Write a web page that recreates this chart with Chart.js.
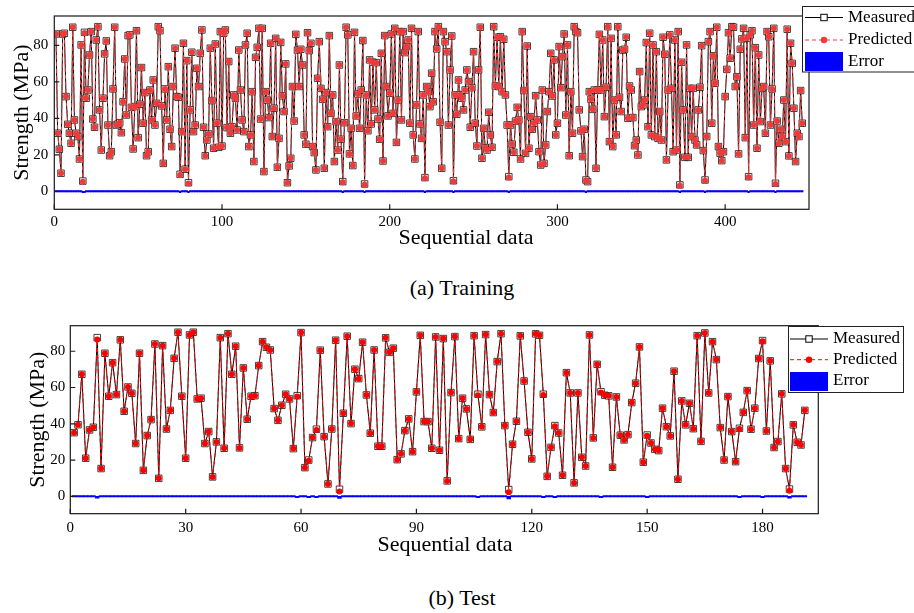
<!DOCTYPE html>
<html><head><meta charset="utf-8">
<script src="https://cdn.jsdelivr.net/npm/chart.js@4/dist/chart.umd.min.js"></script>
<style>
html,body{margin:0;padding:0;background:#fff;width:914px;height:613px;overflow:hidden;}
#wrap{position:relative;width:914px;height:613px;}
#c1{position:absolute;left:0;top:0;}
#c2{position:absolute;left:0;top:300px;}
.cap{position:absolute;width:914px;text-align:center;font-family:"Liberation Serif","Times New Roman",serif;font-size:22px;line-height:25px;color:#000;}
</style></head><body>
<div id="wrap">
<canvas id="c1" width="914" height="260"></canvas>
<canvas id="c2" width="914" height="265"></canvas>
<div class="cap" style="top:275px;left:5px">(a) Training</div>
<div class="cap" style="top:585px;left:5px">(b) Test</div>
</div>
<script>
const trainXTicks = [0, 100, 200, 300, 400];
const testXTicks = [0, 30, 60, 90, 120, 150, 180];
const strengthTicks = [0, 20, 40, 60, 80];
const seriesNames = ['Measured', 'Predicted', 'Error'];

const trainMeasured = [
86.2, 31.8, 23.0, 9.9, 86.2, 86.6, 51.9, 36.7, 31.8, 26.3,
89.9, 39.1, 31.8, 30.0, 17.7, 80.2, 5.6, 87.1, 51.0, 55.5,
74.7, 87.5, 39.6, 35.1, 82.9, 90.2, 44.6, 22.6, 51.0, 75.3,
82.4, 36.3, 19.5, 21.7, 56.1, 89.9, 36.3, 36.9, 37.6, 32.1,
49.1, 72.5, 41.8, 85.3, 85.7, 46.0, 23.2, 46.4, 88.0, 29.4,
47.7, 67.8, 37.3, 54.1, 19.5, 21.7, 55.5, 39.1, 61.0, 36.3,
48.2, 90.2,
88.0, 46.8, 15.3, 56.1, 39.1, 68.3, 34.0, 24.5, 57.4, 78.4,
51.9, 51.5, 9.3, 32.7, 81.1, 12.1, 71.6, 4.7, 44.6, 76.2,
32.7, 36.3, 67.4, 57.4, 75.6, 88.4, 35.1, 19.5, 28.1, 31.4,
78.4, 49.7, 23.6, 80.7, 37.3, 24.1, 87.5, 24.8, 86.6, 88.4,
34.9, 71.1, 31.8, 35.4, 52.8, 51.0, 33.6, 77.4, 55.5, 39.1,
32.7, 80.2, 86.6, 24.5, 30.9, 54.6, 16.3, 73.4, 78.9, 89.3,
39.6, 89.3, 10.8, 54.6,
50.0, 40.4, 81.1, 30.0, 45.5, 83.8, 13.2, 29.0, 81.6, 52.3,
43.7, 69.8, 4.7, 13.9, 18.1, 57.4, 38.5, 86.0, 77.4, 57.4,
77.8, 69.2, 30.9, 25.8, 86.9, 77.1, 81.1, 24.5, 21.2, 11.7,
61.9, 82.0, 56.4, 50.4, 12.6, 54.1, 35.4, 85.3, 42.7, 52.8,
16.3, 38.2, 22.6, 69.2, 28.5, 5.3, 37.6, 89.9, 85.7, 20.5,
34.5, 14.1, 87.1, 41.3, 53.3, 34.5, 55.5, 82.6, 4.0, 52.8,
33.2, 72.0, 36.9, 70.7,
44.6, 70.5, 39.6, 28.5, 75.6, 16.6, 85.3, 57.4, 41.3, 53.7,
86.2, 42.7, 89.3, 26.8, 50.0, 87.5, 39.1, 87.5, 76.0, 79.3,
82.9, 37.3, 89.3, 30.9, 17.7, 47.3, 87.5, 36.9, 29.0, 52.8,
7.5, 57.4, 54.6, 46.4, 64.7, 49.1, 87.5, 78.0, 90.2, 37.8,
12.6, 87.5, 82.0, 76.5, 36.3, 66.5, 85.1, 5.8, 52.8, 42.2,
61.0, 52.8, 51.0, 44.6, 55.5, 66.5, 60.1, 35.1, 56.8, 76.5,
37.3, 24.8, 66.5, 89.9, 18.1, 34.5,
23.9, 22.6, 43.3, 30.9, 24.1, 90.2, 57.7, 84.4, 57.4, 84.7,
54.6, 83.3, 52.8, 36.3, 8.0, 36.3, 25.9, 21.4, 38.5, 46.0,
39.1, 17.7, 87.5, 55.2, 20.8, 79.6, 23.6, 40.9, 34.0, 37.3,
52.4, 39.1, 21.7, 14.4, 55.5, 15.3, 25.4, 43.7, 54.6, 75.6,
52.2, 72.0, 30.9, 37.3, 79.3, 56.8, 73.8, 86.2, 41.8, 80.2,
19.5, 54.6, 31.8, 90.2, 87.5, 86.9, 44.6, 33.1, 19.0, 34.0,
6.2, 5.3, 54.6, 50.4, 44.9, 55.5,
12.6, 55.5, 86.0, 55.5, 82.9, 40.9, 57.0, 90.2, 27.2, 83.8,
24.5, 50.0, 30.9, 90.2, 51.5, 43.7, 77.4, 77.8, 84.4, 40.0,
57.7, 55.5, 40.4, 25.0, 28.1, 19.9, 65.6, 46.4, 47.3, 50.0,
81.5, 35.4, 86.6, 30.9, 80.2, 30.0, 76.5, 29.0, 43.7, 28.1,
84.4, 75.1, 17.2, 55.5, 85.7, 56.4, 21.7, 82.9, 22.6, 87.5,
3.5, 70.7, 44.6, 18.6, 80.2, 18.6, 56.4, 30.0, 56.4, 28.1,
25.4, 44.6, 57.0, 79.8, 22.3, 6.2, 30.0, 82.0,
87.5, 37.3, 74.3, 59.2, 89.9, 24.5, 20.8, 16.8, 21.7, 51.9,
66.8, 86.9, 72.9, 90.2, 89.9, 57.4, 62.8, 20.5, 77.8, 83.5,
89.3, 29.4, 83.8, 8.0, 85.7, 88.0, 36.3, 78.7, 23.6, 74.7,
38.2, 56.4, 57.4, 31.8, 87.5, 84.7, 36.3, 56.1, 89.3, 4.4,
38.5, 26.3, 34.0, 30.0, 50.0, 27.2, 88.8, 19.4, 81.1, 70.1,
45.5, 16.3, 31.8, 30.0, 55.2, 37.3
];

const trainPredicted = [
86.2, 31.8, 23.0, 9.9, 86.2, 86.6, 51.9, 36.7, 31.8, 26.3,
89.9, 39.1, 31.8, 30.0, 17.7, 80.2, 5.2, 86.7, 51.0, 55.5,
74.7, 87.5, 39.6, 35.1, 82.9, 90.2, 44.6, 22.6, 51.0, 75.3,
82.4, 36.3, 19.5, 21.7, 56.1, 89.9, 36.3, 36.9, 37.6, 32.1,
49.1, 72.5, 41.8, 85.3, 85.7, 46.0, 23.2, 46.4, 88.0, 29.4,
47.7, 67.8, 37.3, 54.1, 19.5, 21.7, 55.5, 39.1, 61.0, 36.3,
48.2, 90.2,
88.0, 46.8, 15.3, 56.1, 39.1, 68.3, 34.0, 24.5, 57.4, 78.4,
51.9, 51.5, 9.0, 32.7, 81.1, 12.1, 71.6, 4.3, 44.6, 76.2,
32.7, 36.3, 67.4, 57.4, 75.6, 88.4, 35.1, 19.5, 28.1, 31.4,
78.4, 49.7, 23.6, 80.7, 37.3, 24.1, 87.5, 24.8, 86.6, 88.4,
34.9, 71.1, 31.8, 35.4, 52.8, 51.0, 33.6, 77.4, 55.5, 39.1,
32.7, 80.2, 86.6, 24.5, 30.9, 54.6, 16.3, 73.4, 78.9, 89.3,
39.6, 89.3, 10.8, 54.6,
50.0, 40.4, 81.1, 30.0, 45.5, 83.8, 13.2, 29.0, 81.6, 52.3,
43.7, 69.8, 4.7, 13.9, 18.1, 57.4, 38.5, 86.0, 77.4, 57.4,
77.8, 69.2, 30.9, 25.8, 86.9, 77.1, 81.1, 24.5, 21.2, 11.7,
61.9, 82.0, 56.4, 50.4, 12.6, 54.1, 35.4, 85.3, 42.7, 52.8,
16.3, 38.2, 22.6, 69.2, 28.5, 5.0, 37.6, 89.9, 85.7, 20.5,
34.5, 14.1, 87.1, 41.3, 53.3, 34.5, 55.5, 82.6, 3.6, 52.8,
33.2, 72.0, 36.9, 70.7,
44.6, 70.5, 39.6, 28.5, 75.6, 16.6, 85.3, 57.4, 41.3, 53.7,
86.2, 42.7, 89.3, 26.8, 50.0, 87.5, 39.1, 87.5, 76.0, 79.3,
82.9, 37.3, 89.3, 30.9, 17.7, 47.3, 87.5, 36.9, 29.0, 52.8,
7.2, 57.4, 54.6, 46.4, 64.7, 49.1, 87.5, 78.0, 90.2, 37.8,
12.6, 87.5, 82.0, 76.5, 36.3, 66.5, 85.1, 5.4, 52.8, 42.2,
61.0, 52.8, 51.0, 44.6, 55.5, 66.5, 60.1, 35.1, 56.8, 76.5,
37.3, 24.8, 66.5, 89.9, 18.1, 34.5,
23.9, 22.6, 43.3, 30.9, 24.1, 90.2, 57.7, 84.4, 57.4, 84.7,
54.6, 83.3, 52.8, 36.3, 7.6, 36.3, 25.9, 21.4, 38.5, 46.0,
39.1, 17.7, 87.5, 55.2, 20.8, 79.6, 23.6, 40.9, 34.0, 37.3,
52.4, 39.1, 21.7, 14.4, 55.5, 15.3, 25.4, 43.7, 54.6, 75.6,
52.2, 72.0, 30.9, 37.3, 79.3, 56.8, 73.8, 86.2, 41.8, 80.2,
19.5, 54.6, 31.8, 90.2, 87.5, 86.9, 44.6, 33.1, 19.0, 34.0,
5.9, 5.3, 54.6, 50.4, 44.9, 55.5,
12.6, 55.5, 86.0, 55.5, 82.9, 40.9, 57.0, 90.2, 27.2, 83.8,
24.5, 50.0, 30.9, 90.2, 51.5, 43.7, 77.4, 77.8, 84.4, 40.0,
57.7, 55.5, 40.4, 25.0, 28.1, 19.9, 65.6, 46.4, 47.3, 50.0,
81.5, 35.4, 86.6, 30.9, 80.2, 30.0, 76.5, 29.0, 43.7, 28.1,
84.4, 75.1, 17.2, 55.5, 85.7, 56.4, 21.7, 82.9, 22.6, 87.5,
3.0, 70.7, 44.6, 18.6, 80.2, 18.6, 56.4, 30.0, 56.4, 28.1,
25.4, 44.6, 57.0, 79.8, 22.3, 5.8, 30.0, 82.0,
87.5, 37.3, 74.3, 59.2, 89.9, 24.5, 20.8, 16.8, 21.7, 51.9,
66.8, 86.9, 72.9, 90.2, 89.9, 57.4, 62.8, 20.5, 77.8, 83.5,
89.3, 29.4, 83.8, 7.7, 85.7, 88.0, 36.3, 78.7, 23.6, 74.7,
38.2, 56.4, 57.4, 31.8, 87.5, 84.7, 36.3, 56.1, 89.3, 4.0,
38.5, 26.3, 34.0, 30.0, 50.0, 27.2, 88.8, 19.4, 81.1, 70.1,
45.5, 16.3, 31.8, 30.0, 55.2, 37.3
];

const testMeasured = [
35.1, 39.5, 67.3, 21.0, 36.6, 38.1, 87.5, 15.3, 78.9, 55.2,
73.7, 56.1, 86.3, 46.9, 60.3, 56.8, 29.1, 78.9, 14.3, 33.5,
42.3, 84.0, 9.9, 83.1, 37.1, 47.4, 76.1, 90.5, 55.2, 21.0,
89.0, 90.5, 53.7, 54.1, 29.1, 35.7, 10.7, 30.0, 87.5, 26.5,
89.7, 67.3, 82.8, 26.7, 70.8, 42.5, 55.2, 55.5, 72.1, 85.3,
82.2, 80.7, 48.4, 41.9, 50.2, 56.3, 53.7, 26.3, 55.5, 90.3,
15.8, 20.0, 32.4, 37.0, 80.6, 32.9, 6.8, 37.1, 86.1, 3.9,
45.8, 88.3, 40.1, 70.1, 64.9, 85.0, 55.9, 34.8, 80.7, 27.6,
27.6, 87.4, 79.4, 81.7, 20.2, 23.4, 36.2, 42.7, 24.6, 57.6,
88.8, 41.2, 41.2, 26.5, 87.9, 25.4, 87.0, 8.5, 57.2, 88.1,
31.8, 54.1, 48.2, 31.4, 88.6, 56.3, 38.3, 89.2, 56.1, 46.2,
74.3, 89.7, 39.0, 3.7, 28.7, 41.4, 88.5, 63.6, 35.3, 20.6,
89.6, 88.8, 56.3, 11.0, 27.0, 39.0, 34.9, 11.6, 68.2, 57.0,
7.4, 57.0, 21.5, 16.7, 89.0, 32.2, 72.8, 57.7, 55.7, 55.4,
16.0, 54.8, 33.7, 31.1, 34.0, 51.7, 62.4, 82.4, 18.8, 33.8,
29.4, 25.9, 25.2, 48.6, 38.4, 33.3, 69.0, 9.4, 52.6, 39.4,
51.3, 37.3, 88.6, 30.3, 90.1, 57.0, 85.3, 75.4, 37.9, 20.0,
55.0, 35.7, 19.1, 37.5, 46.3, 58.3, 37.0, 48.6, 76.0, 85.9,
36.0, 74.7, 26.9, 30.2, 56.5, 15.3, 4.0, 39.4, 29.8, 28.3, 47.4
];

const testPredicted = [
35.1, 39.5, 67.3, 21.0, 36.6, 38.1, 86.5, 15.3, 78.9, 55.2,
73.7, 56.1, 86.3, 46.9, 60.3, 56.8, 29.1, 78.9, 14.3, 33.5,
42.3, 84.0, 9.9, 83.1, 37.1, 47.4, 76.1, 90.5, 55.2, 21.0,
89.0, 90.5, 53.7, 54.1, 29.1, 35.7, 10.7, 30.0, 87.5, 26.5,
89.7, 67.3, 82.8, 26.7, 70.8, 42.5, 55.2, 55.5, 72.1, 85.3,
82.2, 80.7, 48.4, 41.9, 50.2, 56.3, 53.7, 26.3, 55.0, 90.3,
15.8, 19.6, 32.4, 36.6, 80.6, 32.9, 6.8, 37.1, 86.1, 2.7,
45.8, 88.3, 40.1, 70.1, 64.9, 85.0, 55.9, 34.8, 80.7, 27.6,
27.6, 87.4, 79.4, 81.7, 20.2, 23.4, 36.2, 42.7, 24.6, 57.6,
88.8, 41.2, 41.2, 26.5, 87.9, 25.4, 87.0, 8.5, 57.2, 88.1,
31.8, 54.1, 48.2, 31.4, 88.6, 55.8, 38.3, 89.2, 56.1, 46.2,
74.3, 89.7, 39.0, 2.3, 28.7, 41.4, 88.5, 63.6, 35.3, 20.6,
89.6, 88.8, 55.9, 11.0, 27.0, 38.6, 34.9, 11.6, 68.2, 57.0,
7.4, 57.0, 21.5, 16.7, 89.0, 32.2, 72.8, 57.3, 55.7, 55.4,
16.0, 54.8, 33.7, 31.1, 34.0, 51.7, 62.4, 82.4, 18.8, 33.4,
29.4, 25.9, 25.2, 48.6, 38.4, 33.3, 69.0, 9.4, 52.6, 39.4,
51.3, 37.3, 88.6, 30.3, 90.1, 57.0, 85.3, 75.4, 37.9, 20.0,
55.0, 35.7, 19.1, 37.1, 46.3, 58.3, 37.0, 48.6, 76.0, 85.5,
36.0, 74.7, 26.9, 30.2, 56.5, 15.3, 3.0, 39.4, 29.8, 28.3, 47.4
];

const SERIF = '"Liberation Serif", "Times New Roman", serif';

function points(arr) { return arr.map((v, i) => ({ x: i + 1, y: v })); }
function diffs(pred, meas) { return pred.map((v, i) => ({ x: i + 1, y: Math.round((v - meas[i]) * 100) / 100 })); }

const frameTicks = {
  id: 'frameTicks',
  afterDraw(chart) {
    const { ctx, chartArea: a, scales } = chart;
    ctx.save();
    ctx.strokeStyle = '#1a1a1a';
    ctx.lineWidth = 1.2;
    ctx.strokeRect(a.left, a.top, a.right - a.left, a.bottom - a.top);
    ctx.beginPath();
    scales.x.ticks.forEach(t => { const p = scales.x.getPixelForValue(t.value); ctx.moveTo(p, a.bottom); ctx.lineTo(p, a.bottom - 5); });
    scales.y.ticks.forEach(t => { const p = scales.y.getPixelForValue(t.value); ctx.moveTo(a.left, p); ctx.lineTo(a.left + 5, p); });
    ctx.stroke();
    ctx.restore();
  }
};

const boxLegend = {
  id: 'boxLegend',
  afterDraw(chart, args, o) {
    const ctx = chart.ctx;
    const ds = chart.data.datasets;
    ctx.save();
    ctx.fillStyle = '#fff';
    ctx.fillRect(o.left, o.top, o.width, o.height);
    ctx.strokeStyle = '#222';
    ctx.lineWidth = 1;
    ctx.strokeRect(o.left, o.top, o.width, o.height);
    const x0 = o.x0, x1 = o.x1, xm = (x0 + x1) / 2;
    ctx.strokeStyle = '#000';
    ctx.beginPath(); ctx.moveTo(x0, o.rows[0]); ctx.lineTo(x1, o.rows[0]); ctx.stroke();
    ctx.fillStyle = '#fff';
    ctx.fillRect(xm - 3.2, o.rows[0] - 3.2, 6.4, 6.4);
    ctx.strokeRect(xm - 3.2, o.rows[0] - 3.2, 6.4, 6.4);
    ctx.strokeStyle = o.red;
    ctx.setLineDash([4, 3]);
    ctx.beginPath(); ctx.moveTo(x0, o.rows[1]); ctx.lineTo(x1, o.rows[1]); ctx.stroke();
    ctx.setLineDash([]);
    ctx.fillStyle = o.red;
    ctx.beginPath(); ctx.arc(xm, o.rows[1], 3.2, 0, Math.PI * 2); ctx.fill();
    ctx.fillStyle = '#0000ff';
    ctx.fillRect(x0, o.errTop, x1 - x0, o.errH);
    ctx.fillStyle = '#000';
    ctx.font = '17px ' + SERIF;
    ctx.textAlign = 'left';
    ctx.textBaseline = 'middle';
    ds.forEach((d, i) => ctx.fillText(d.label, o.textX, o.rows[i]));
    ctx.restore();
  }
};

const xTitle = {
  id: 'xTitle',
  afterDraw(chart, args, o) {
    const ctx = chart.ctx;
    ctx.save();
    ctx.fillStyle = '#000';
    ctx.font = '22px ' + SERIF;
    ctx.textAlign = 'center';
    ctx.textBaseline = 'middle';
    ctx.fillText(o.text, o.x, o.y);
    ctx.restore();
  }
};

function build(canvasId, meas, pred, xTicks, cfg) {
  const tickFont = { family: SERIF, size: 15 };
  return new Chart(document.getElementById(canvasId), {
    type: 'line',
    data: {
      datasets: [
        { label: seriesNames[0], data: points(meas), borderColor: '#000', borderWidth: 1,
          pointStyle: 'rect', pointRadius: 4.6, pointBackgroundColor: '#fff',
          pointBorderColor: 'rgba(0,0,0,0.75)', pointBorderWidth: 1, tension: 0, order: 1 },
        { label: seriesNames[1], data: points(pred), borderColor: cfg.red, borderWidth: 1,
          borderDash: [4, 3], pointStyle: 'circle', pointRadius: 3, pointBackgroundColor: cfg.red,
          pointBorderWidth: 0, tension: 0, order: 0 },
        { type: 'bar', label: seriesNames[2], data: diffs(pred, meas), backgroundColor: '#0000ff',
          borderWidth: 0, barPercentage: 1, categoryPercentage: 1, minBarLength: 1.3, order: 2 }
      ]
    },
    options: {
      responsive: false,
      animation: false,
      devicePixelRatio: 1,
      events: [],
      layout: { padding: cfg.padding },
      scales: {
        x: {
          type: 'linear', min: cfg.xMin, max: cfg.xMax, offset: false,
          afterBuildTicks: s => { s.ticks = xTicks.map(v => ({ value: v })); },
          afterFit: s => { s.height = cfg.xHeight; },
          grid: { display: false, drawTicks: false },
          border: { display: false },
          ticks: { font: tickFont, color: '#000', padding: cfg.xPad, maxRotation: 0, autoSkip: false }
        },
        y: {
          type: 'linear', min: cfg.yMin, max: cfg.yMax,
          afterBuildTicks: s => { s.ticks = strengthTicks.map(v => ({ value: v })); },
          afterFit: s => { s.width = cfg.yWidth; },
          grid: { display: false, drawTicks: false },
          border: { display: false },
          ticks: { font: tickFont, color: '#000', padding: cfg.yPad },
          title: { display: true, text: 'Strength (MPa)', color: '#000',
                   font: { family: SERIF, size: 22 }, padding: { top: cfg.yTitlePad, bottom: 0 } }
        }
      },
      plugins: {
        legend: { display: false },
        tooltip: { enabled: false },
        boxLegend: cfg.legend,
        xTitle: cfg.xTitle
      }
    },
    plugins: [frameTicks, boxLegend, xTitle]
  });
}

build('c1', trainMeasured, trainPredicted, trainXTicks, {
  red: '#ef3a3a',
  padding: { left: 0, top: 16, right: 105, bottom: 0 },
  xMin: 0, xMax: 450, yMin: -9.86, yMax: 96.05,
  xHeight: 50.7, yWidth: 54.3, xPad: 4, yPad: 6, yTitlePad: 9,
  legend: { left: 802.5, top: 6.5, width: 140, height: 65.5, x0: 805, x1: 843,
            rows: [17.5, 40, 61.5], errTop: 52, errH: 19, textX: 848, red: '#ef3a3a' },
  xTitle: { text: 'Sequential data', x: 466, y: 238 }
});

build('c2', testMeasured, testPredicted, testXTicks, {
  red: '#ff0000',
  padding: { left: 0, top: 25.7, right: 95.7, bottom: 0 },
  xMin: 0, xMax: 194.5, yMin: -9.6, yMax: 94.1,
  xHeight: 51.3, yWidth: 70.3, xPad: 5, yPad: 5, yTitlePad: 25,
  legend: { left: 788.5, top: 26.5, width: 115, height: 66, x0: 790, x1: 828,
            rows: [39, 59.7, 81], errTop: 72, errH: 19, textX: 833, red: '#ff0000' },
  xTitle: { text: 'Sequential data', x: 445, y: 245 }
});
</script>
</body></html>
